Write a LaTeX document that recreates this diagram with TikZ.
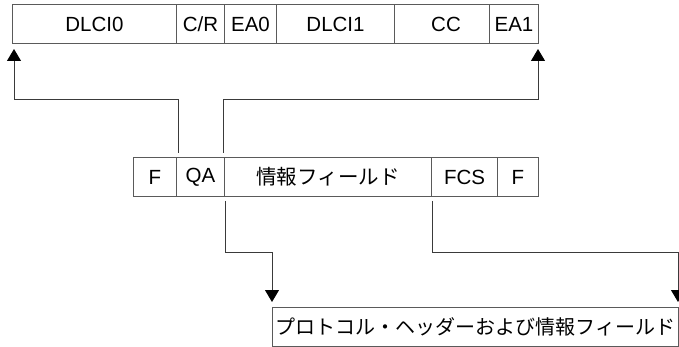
\documentclass[tikz,border=0pt]{standalone}
\usepackage{fontspec}
\setmainfont{Liberation Sans}
\newfontfamily\jpfont{Noto Sans CJK JP}
\usetikzlibrary{arrows.meta}
\definecolor{boxline}{HTML}{5A5A5A}
\definecolor{conline}{HTML}{3A3A3A}
\begin{document}
\begin{tikzpicture}[x=1pt,y=-1pt,
  cell/.style={draw=boxline,line width=1pt,anchor=north west,minimum height=39pt,inner sep=0pt,
    font=\fontsize{20.5}{22}\selectfont,text=black},
  conn/.style={draw=conline,line width=1pt},
  arr/.style={conn,-{Triangle[width=14pt,length=12pt,fill=black,color=black]}}]
\useasboundingbox (0,0) rectangle (679,347);
% top row
\node[cell,minimum width=164pt] (dlci0) at (12,4) {DLCI0};
\node[cell,minimum width=48pt] (cr) at (176,4) {C/R};
\node[cell,minimum width=52pt] (ea0) at (224,4) {EA0};
\node[cell,minimum width=118pt] (dlci1) at (276,4) {DLCI1};
\node[cell,minimum width=95pt] (cc) at (394,4) {\hspace*{8pt}CC};
\node[cell,minimum width=49pt] (ea1) at (489,4) {EA1};
% middle row
\node[cell,minimum width=43pt] (f1) at (133,157) {F};
\node[cell,minimum width=48pt] (qa) at (176,157) {QA};
\node[cell,minimum width=207pt] (info) at (224,157) {\jpfont 情報フィールド};
\node[cell,minimum width=66pt] (fcs) at (431,157) {FCS};
\node[cell,minimum width=41pt] (f2) at (497,157) {F};
% bottom box
\node[cell,minimum width=406pt,font=\fontsize{20}{22}\selectfont] (pf) at (272,307) {\jpfont プロトコル・ヘッダーおよび情報フィールド};
% coordinates
\coordinate (a0) at ([xshift=2pt,yshift=4pt]qa.north west);
\coordinate (b0) at ([xshift=-2pt,yshift=4pt]qa.north east);
\coordinate (c0) at ([xshift=1pt,yshift=-4pt]info.south west);
\coordinate (d0) at ([yshift=-4pt]info.south east);
\coordinate (at) at ([xshift=2pt,yshift=-5pt]dlci0.south west);
\coordinate (bt) at ([xshift=-1pt,yshift=-5pt]ea1.south east);
\coordinate (ct) at ([yshift=5pt]pf.north west);
\coordinate (dt) at ([xshift=-1pt,yshift=5pt]pf.north east);
% connectors
\draw[arr] (a0) -- (a0 |- 0,100) -- (at |- 0,100) -- (at);
\draw[arr] (b0) -- (b0 |- 0,100) -- (bt |- 0,100) -- (bt);
\draw[arr] (c0) -- (c0 |- 0,252) -- (ct |- 0,252) -- (ct);
\draw[arr] (d0) -- (d0 |- 0,252) -- (dt |- 0,252) -- (dt);
\end{tikzpicture}
\end{document}
